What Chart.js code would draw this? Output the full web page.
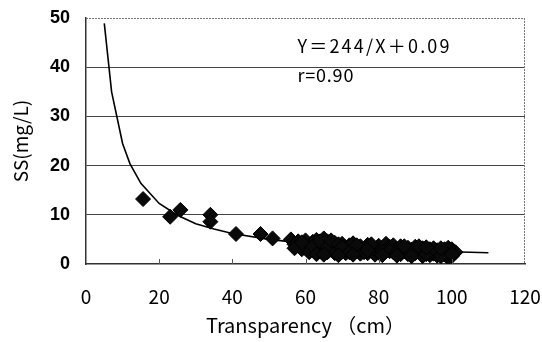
<!DOCTYPE html>
<html>
<head>
<meta charset="utf-8">
<script src="https://cdn.jsdelivr.net/npm/chart.js@4/dist/chart.umd.min.js"></script>
<style>
  body { margin: 0; background: #fff; }
  #c { display: block; }
</style>
</head>
<body>
<canvas id="c" width="542" height="342"></canvas>
<script>
// measured points (Transparency cm, SS mg/L)
const pointX = [15.6, 23, 25.8, 34, 34, 41, 47.7, 51, 56, 57,
  58, 58, 59, 60, 60, 60, 61, 62, 62, 63, 63, 64, 64, 65, 65, 65, 66, 66, 67, 67, 68, 68, 69,
  70, 70, 71, 71, 72, 73, 73, 74, 75, 75, 76, 77, 77, 78, 79, 79, 80, 80, 81, 82, 82, 83, 84, 84,
  85, 86, 86, 87, 88, 88, 89, 90, 90, 91, 92, 92, 93, 94, 94, 95, 96, 96, 97, 98, 98, 99, 99,
  100, 100, 100, 101,
  57, 59, 61, 62, 63, 64, 66, 67, 68, 69, 70, 72, 74, 76, 78, 81, 83, 85, 87, 89, 91, 93, 95, 97, 99, 100,
  65, 69, 73, 77, 81, 85, 89, 93, 97];
const pointY = [13.2, 9.6, 11, 10, 8.6, 6.1, 6.1, 5.2, 5.0, 4.0,
  4.6, 3.8, 3.0, 4.2, 3.2, 4.8, 3.6, 4.5, 2.8, 3.9, 4.9, 3.3, 2.6, 5.2, 4.1, 3.0, 4.6, 2.4, 3.7, 2.9, 4.3, 2.9, 3.5,
  4.1, 2.5, 3.2, 2.2, 3.8, 3.0, 4.2, 2.6, 3.6, 2.1, 3.1, 2.2, 3.9, 3.4, 2.8, 1.9, 3.7, 2.3, 3.2, 4.1, 2.7, 3.5, 2.4, 3.8,
  3.0, 3.6, 2.0, 2.6, 3.3, 2.0, 2.9, 3.5, 2.2, 2.7, 3.2, 1.6, 2.5, 3.0, 1.8, 2.1, 2.8, 1.7, 2.4, 3.0, 1.9, 2.6, 1.3,
  2.2, 3.0, 1.6, 2.4,
  3.2, 4.4, 2.4, 3.6, 2.0, 4.6, 3.4, 4.8, 2.2, 4.0, 3.4, 2.4, 3.8, 2.4, 4.0, 2.5, 2.6, 2.3, 3.6, 2.2, 3.6, 2.0, 3.2, 1.6, 3.3, 2.0,
  1.9, 1.8, 1.9, 2.8, 1.8, 1.7, 1.6, 3.4, 3.2];

// fitted curve
const curveX = [5, 7, 10, 12, 15, 20, 25, 30, 35, 40, 50, 60, 70, 80, 90, 100, 110];
const curveY = [48.9, 35, 24.5, 20.4, 16.4, 12.3, 9.9, 8.2, 7.1, 6.2, 5.0, 4.2, 3.6, 3.1, 2.8, 2.5, 2.3];

const xTicks = [0, 20, 40, 60, 80, 100, 120];
const yTicks = [0, 10, 20, 30, 40, 50];

const eqText = "Y＝244/X＋0.09";
const rText = "r=0.90";

const scatter = pointX.map((x, i) => ({ x: x, y: pointY[i] }));
const curve = curveX.map((x, i) => ({ x: x, y: curveY[i] }));

// dotted top/right frame, inner ticks and the equation text
const extras = {
  id: 'extras',
  afterDatasetsDraw(chart) {
    const ctx = chart.ctx;
    const a = chart.chartArea;
    const xs = chart.scales.x, ys = chart.scales.y;
    ctx.save();
    ctx.strokeStyle = '#777';
    ctx.lineWidth = 1;
    ctx.setLineDash([2, 1]);
    ctx.beginPath();
    ctx.moveTo(a.left, a.top + 0.5);
    ctx.lineTo(a.right, a.top + 0.5);
    ctx.moveTo(a.right - 0.5, a.top);
    ctx.lineTo(a.right - 0.5, a.bottom);
    ctx.stroke();
    ctx.setLineDash([]);
    ctx.strokeStyle = '#555';
    ctx.beginPath();
    xTicks.slice(1, -1).forEach(v => {
      const px = Math.round(xs.getPixelForValue(v)) + 0.5;
      ctx.moveTo(px, a.bottom);
      ctx.lineTo(px, a.bottom - 5);
    });
    ctx.stroke();
    ctx.fillStyle = '#000';
    ctx.font = '18px "Noto Sans CJK JP"';
    ctx.textBaseline = 'middle';
    ctx.letterSpacing = '2.2px';
    ctx.fillText(eqText, xs.getPixelForValue(57.8), ys.getPixelForValue(44.3));
    ctx.letterSpacing = '0.8px';
    ctx.fillText(rText, xs.getPixelForValue(57.8), ys.getPixelForValue(38.4));
    ctx.restore();
  }
};

new Chart(document.getElementById('c'), {
  type: 'scatter',
  data: {
    datasets: [
      {
        type: 'line',
        data: curve,
        borderColor: '#000',
        borderWidth: 1.6,
        pointRadius: 0,
        tension: 0,
        fill: false,
        order: 2
      },
      {
        data: scatter,
        pointStyle: 'rectRot',
        pointRadius: 7.5,
        backgroundColor: '#0a0a0a',
        borderColor: '#000',
        borderWidth: 1,
        order: 1
      }
    ]
  },
  options: {
    responsive: false,
    animation: false,
    layout: { autoPadding: false, padding: { left: 0, right: 17, top: 18, bottom: 0 } },
    plugins: { legend: { display: false }, tooltip: { enabled: false } },
    scales: {
      x: {
        type: 'linear',
        min: 0,
        max: 120,
        afterBuildTicks: s => { s.ticks = xTicks.map(v => ({ value: v })); },
        afterFit: s => {
          s.height = 78;
          s.paddingLeft = 0;
          s.paddingRight = 0;
        },
        grid: { drawOnChartArea: false, drawTicks: false },
        border: { display: true, color: '#333', width: 1.5 },
        ticks: {
          color: '#000',
          padding: 21,
          maxRotation: 0,
          font: { family: '"Noto Sans CJK JP"', size: 19 }
        },
        title: {
          display: true,
          text: 'Transparency （cm）',
          color: '#000',
          padding: { top: 0, bottom: 4.6 },
          font: { family: '"Noto Sans CJK JP"', size: 20 }
        }
      },
      y: {
        type: 'linear',
        min: 0,
        max: 50,
        afterBuildTicks: s => { s.ticks = yTicks.map(v => ({ value: v })); },
        afterFit: s => {
          s.width = 86;
          s.paddingTop = 0;
          s.paddingBottom = 0;
        },
        grid: {
          drawTicks: false,
          color: c => (c.tick.value === 0 || c.tick.value === 50) ? 'rgba(0,0,0,0)' : '#444',
          lineWidth: 1
        },
        border: { display: true, color: '#333', width: 1.5 },
        ticks: {
          color: '#000',
          padding: 16,
          font: { family: '"Liberation Sans"', size: 18, weight: 'bold' }
        },
        title: {
          display: true,
          text: 'SS(mg/L)',
          color: '#000',
          padding: { top: 9.6, bottom: 0 },
          font: { family: '"Noto Sans CJK JP"', size: 19 }
        }
      }
    }
  },
  plugins: [extras]
});
</script>
</body>
</html>
